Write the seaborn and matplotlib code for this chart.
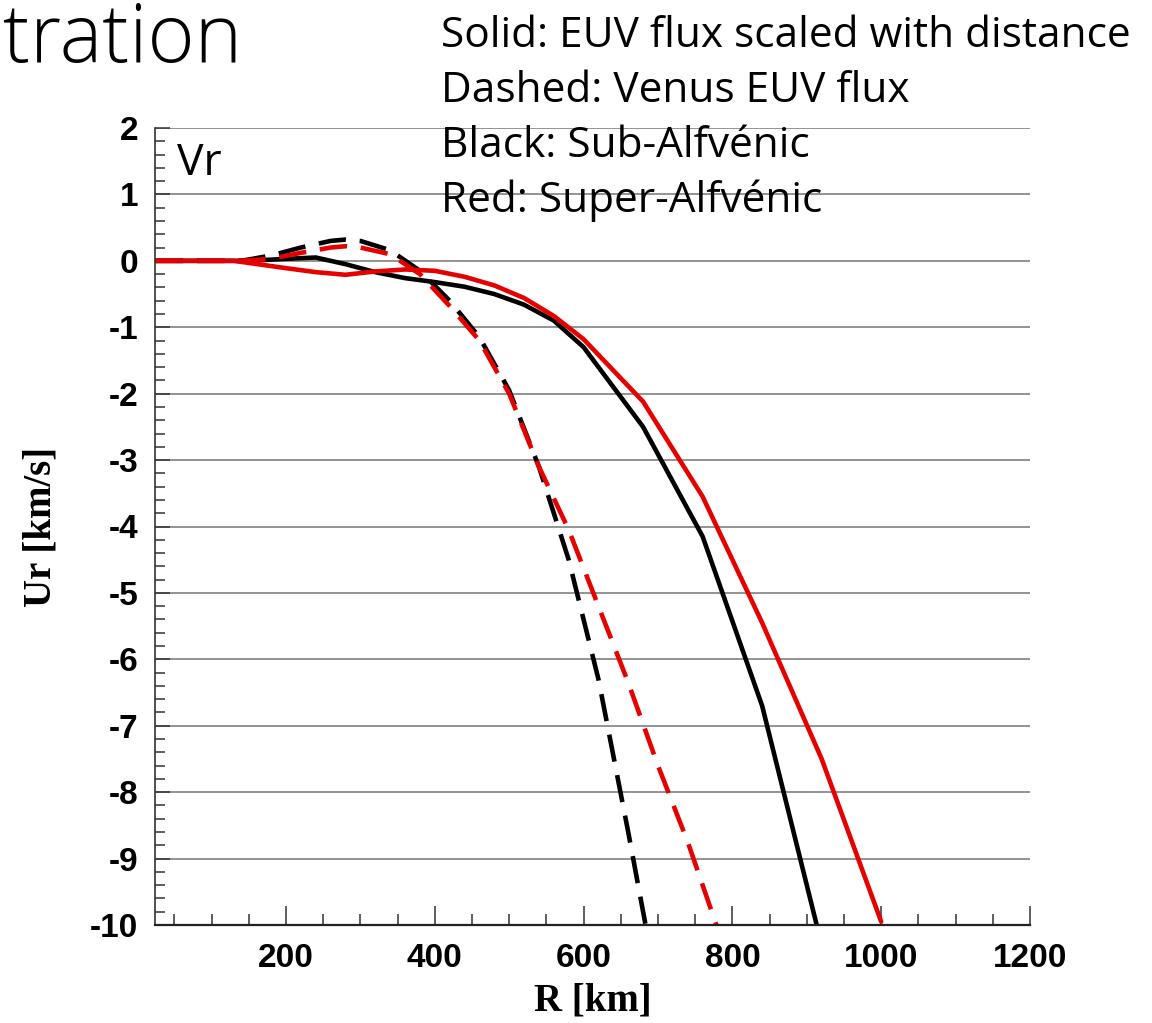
import numpy as np
import pandas as pd
import matplotlib
matplotlib.use("Agg")
import matplotlib.pyplot as plt
from matplotlib.ticker import MultipleLocator
from matplotlib.font_manager import FontProperties
import seaborn as sns

# Radial velocity profiles, Ur [km/s] versus altitude R [km]
r_sub_scaled = [25, 150, 200, 240, 280, 320, 360, 400, 440, 480, 520, 560, 600, 680, 760, 840, 920]
u_sub_scaled = [0.0, 0.0, 0.03, 0.05, -0.05, -0.17, -0.26, -0.32, -0.39, -0.50, -0.66, -0.90, -1.30,
                -2.50, -4.15, -6.70, -10.30]

r_super_scaled = [25, 130, 200, 240, 280, 320, 360, 400, 440, 480, 520, 560, 600, 680, 760, 840, 920, 1000]
u_super_scaled = [0.0, 0.0, -0.11, -0.17, -0.21, -0.16, -0.13, -0.15, -0.24, -0.37, -0.56, -0.83, -1.18,
                  -2.12, -3.55, -5.45, -7.50, -9.95]

r_sub_venus = [25, 100, 140, 180, 220, 260, 280, 300, 340, 380, 420, 460, 500, 540, 580, 620, 660, 700]
u_sub_venus = [0.0, 0.0, 0.0, 0.08, 0.20, 0.30, 0.32, 0.30, 0.16, -0.15, -0.60, -1.15, -1.95, -3.10,
               -4.50, -6.30, -8.60, -11.00]

r_super_venus = [25, 100, 140, 180, 220, 260, 280, 300, 340, 380, 420, 460, 500, 540, 580, 620, 660, 700,
                 740, 780]
u_super_venus = [0.0, 0.0, 0.0, 0.03, 0.12, 0.20, 0.22, 0.20, 0.10, -0.20, -0.68, -1.20, -2.00, -3.10,
                 -4.05, -5.20, -6.35, -7.60, -8.75, -10.05]

x_ticks = [200, 400, 600, 800, 1000, 1200]
y_ticks = list(range(-10, 3))

notes = ["Solid: EUV flux scaled with distance",
         "Dashed: Venus EUV flux",
         "Black: Sub-Alfvénic",
         "Red: Super-Alfvénic"]

frames = []
for r, u, regime, flux in [(r_sub_scaled, u_sub_scaled, "sub", "scaled"),
                           (r_super_scaled, u_super_scaled, "super", "scaled"),
                           (r_sub_venus, u_sub_venus, "sub", "venus"),
                           (r_super_venus, u_super_venus, "super", "venus")]:
    frames.append(pd.DataFrame({"R": r, "Ur": u, "regime": regime, "flux": flux}))
df = pd.concat(frames, ignore_index=True)

sns.set_theme(style="white")
plt.rcParams["font.family"] = ["Liberation Sans", "DejaVu Sans"]
plt.rcParams["axes.unicode_minus"] = False

W, H = 1152, 1023
fig = plt.figure(figsize=(W / 100, H / 100), dpi=100)
ax = fig.add_axes([155 / W, 1 - 925 / H, (1030 - 155) / W, (925 - 128) / H])

sns.lineplot(data=df, x="R", y="Ur", hue="regime", style="flux",
             hue_order=["sub", "super"], style_order=["scaled", "venus"],
             palette={"sub": "#000000", "super": "#e60000"},
             dashes={"scaled": "", "venus": (6, 3)},
             sort=False, estimator=None, linewidth=3.3, legend=False, ax=ax)

ax.set_xlim(24, 1200)
ax.set_ylim(-10, 2)
ax.set_xticks(x_ticks)
ax.set_yticks(y_ticks)
ax.xaxis.set_minor_locator(MultipleLocator(50))
ax.yaxis.set_minor_locator(MultipleLocator(0.2))

ax.set_axisbelow(True)
ax.yaxis.grid(True, color="#808080", linewidth=1.2)
ax.xaxis.grid(False)

for side in ["top", "right"]:
    ax.spines[side].set_visible(False)
ax.spines["left"].set_color("#333333")
ax.spines["left"].set_linewidth(1.2)
ax.spines["bottom"].set_color("#222222")
ax.spines["bottom"].set_linewidth(1.6)

tick_font = FontProperties(family="Liberation Sans", weight="bold", size=24)
ax.tick_params(axis="both", which="both", direction="in", color="#333333", width=1.1,
               labelcolor="black")
ax.tick_params(axis="x", which="major", length=14, pad=13, bottom=True)
ax.tick_params(axis="x", which="minor", length=8, bottom=True)
ax.tick_params(axis="y", which="major", length=11, pad=12, left=True)
ax.tick_params(axis="y", which="minor", length=7, left=True)
for lab in ax.get_xticklabels() + ax.get_yticklabels():
    lab.set_fontproperties(tick_font)

label_font = {"family": "Liberation Serif", "weight": "bold", "size": 28, "color": "black"}
ax.set_xlabel("R [km]", fontdict=label_font, labelpad=6)
ax.set_ylabel("Ur [km/s]", fontdict=label_font, labelpad=22)

note_font = "Open Sans"
fig.text(177 / W, 1 - 175 / H, "Vr", fontsize=32, family=note_font, color="black", va="baseline")
baselines = [47, 102, 157, 212]
for txt, yb in zip(notes, baselines):
    fig.text(441 / W, 1 - yb / H, txt, fontsize=30.5, family=note_font, color="black",
             va="baseline")

fig.text(3 / W, 1 - 62 / H, "tration", fontsize=58, family="Open Sans", weight="light",
         color="black", va="baseline")

fig.savefig("out.png", dpi=100)
